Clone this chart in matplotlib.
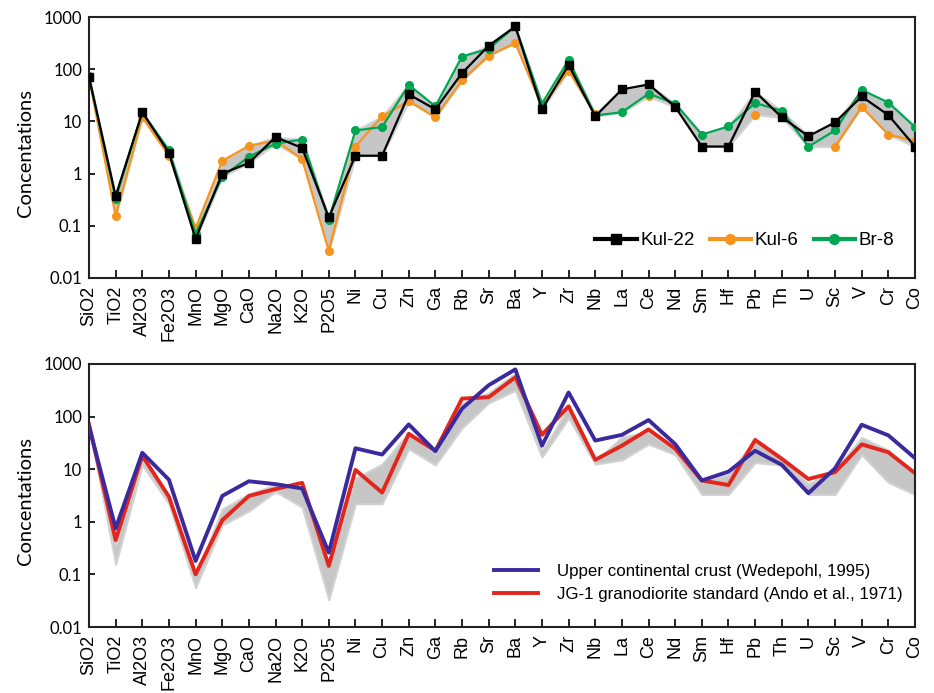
import numpy as np
import matplotlib.pyplot as plt

elements = ["SiO2", "TiO2", "Al2O3", "Fe2O3", "MnO", "MgO", "CaO", "Na2O", "K2O", "P2O5",
            "Ni", "Cu", "Zn", "Ga", "Rb", "Sr", "Ba", "Y", "Zr", "Nb",
            "La", "Ce", "Nd", "Sm", "Hf", "Pb", "Th", "U", "Sc", "V", "Cr", "Co"]

nan = np.nan
# samples (top panel)
kul22 = [70, 0.37, 15, 2.5, 0.056, 1.0, 1.6, 5.0, 3.1, 0.145,
         2.2, 2.2, 33, 17, 84, 282, 660, 17, 121, 12.5,
         41, 51, 19, 3.3, 3.3, 37, 12, 5.2, 9.6, 30, 13.2, 3.3]
kul6 = [70, 0.155, 12, 2.2, 0.09, 1.75, 3.4, 4.3, 1.9, 0.033,
        3.3, 12.5, 24.5, 12, 61, 182, 315, 20, 94, 14,
        nan, 30, nan, nan, nan, 13.4, nan, nan, 3.3, 19, 5.6, 4.2]
br8 = [73, 0.33, 15, 2.8, 0.07, 0.87, 2.1, 3.75, 4.5, 0.13,
       6.7, 7.8, 50, 19.4, 175, 245, 660, 22, 150, 13,
       15, 34, 22, 5.6, 8, 22.5, 16, 3.3, 6.7, 40, 23, 7.8]

# reference compositions (bottom panel)
ucc = [65, 0.75, 20.5, 6.3, 0.18, 3.1, 5.9, 5.2, 4.3, 0.26,
       25, 19, 71, 22, 142, 395, 790, 28, 287, 35,
       45, 86, 30, 6.1, 9.0, 22.4, 12.1, 3.5, 10.4, 70, 44, 16.2]
jg1 = [71, 0.45, 18, 3.0, 0.1, 1.07, 3.1, 4.2, 5.5, 0.145,
       9.7, 3.6, 47, 22.4, 220, 234, 560, 45, 157, 15.1,
       28, 57, 24.5, 6.1, 5.0, 36, 15.8, 6.5, 8.8, 29.6, 21, 8.4]

x = np.arange(len(elements))
samples = np.array([kul22, kul6, br8], dtype=float)
lo = np.nanmin(samples, axis=0)
hi = np.nanmax(samples, axis=0)

plt.rcParams['font.family'] = ['Liberation Sans', 'DejaVu Sans']

fig = plt.figure(figsize=(9.34, 6.93), dpi=100)
ax1 = fig.add_axes([89 / 934, 1 - 278 / 693, 826 / 934, 261 / 693])
ax2 = fig.add_axes([89 / 934, 1 - 627 / 693, 826 / 934, 263 / 693])

grey = '#c6c6c6'


def setup(ax):
    ax.set_yscale('log')
    ax.set_ylim(0.01, 1000)
    ax.set_xlim(0, len(elements) - 1)
    ax.set_xticks(x)
    ax.set_xticklabels(elements, rotation=90, fontsize=13)
    ax.set_yticks([0.01, 0.1, 1, 10, 100, 1000])
    ax.set_yticklabels(["0.01", "0.1", "1", "10", "100", "1000"], family='Lato', fontsize=12)
    ax.yaxis.set_minor_locator(plt.NullLocator())
    ax.tick_params(axis='x', direction='in', length=6, width=1.2, pad=5.5)
    ax.tick_params(axis='y', direction='in', length=4, width=1.2, pad=5)
    ax.set_ylabel("Concentations", family='Lato', fontsize=14.5)
    ax.yaxis.set_label_coords(-0.066, 0.48)
    for s in ax.spines.values():
        s.set_linewidth(1.5)
        s.set_color('#222222')


# top panel
ax1.fill_between(x, lo, hi, color=grey, lw=1.5, edgecolor='#d2d2d2', zorder=1)
ax1.plot(x, kul6, color='#f7941d', lw=1.6, marker='o', ms=5.5, label='Kul-6', zorder=2)
ax1.plot(x, br8, color='#00a651', lw=1.6, marker='o', ms=5.5, label='Br-8', zorder=3)
ax1.plot(x, kul22, color='black', lw=1.6, marker='s', ms=5.5, label='Kul-22', zorder=4)
setup(ax1)
h, l = ax1.get_legend_handles_labels()
order = [2, 0, 1]
leg1 = ax1.legend([h[i] for i in order], [l[i] for i in order], loc='lower right', ncol=3,
                  frameon=False, fontsize=13.5, handlelength=2.2, columnspacing=0.8,
                  handletextpad=0.2, borderpad=0, borderaxespad=0,
                  bbox_to_anchor=(0.975, 0.11))
for lh in leg1.legend_handles:
    lh.set_linewidth(3)
    lh.set_markersize(7)

# bottom panel
ax2.fill_between(x, lo, hi, color=grey, lw=1.5, edgecolor='#d2d2d2', zorder=1)
ax2.plot(x, ucc, color='#3a2a9e', lw=2.8, label='Upper continental crust (Wedepohl, 1995)', zorder=3)
ax2.plot(x, jg1, color='#e2261c', lw=2.8, label='JG-1 granodiorite standard (Ando et al., 1971)', zorder=2)
setup(ax2)
ax2.legend(loc='lower right', frameon=False, fontsize=12.2, handlelength=2.6,
           handletextpad=1.1, labelspacing=0.45, borderpad=0, borderaxespad=0,
           bbox_to_anchor=(0.985, 0.095))

fig.savefig('out.png', dpi=100)
